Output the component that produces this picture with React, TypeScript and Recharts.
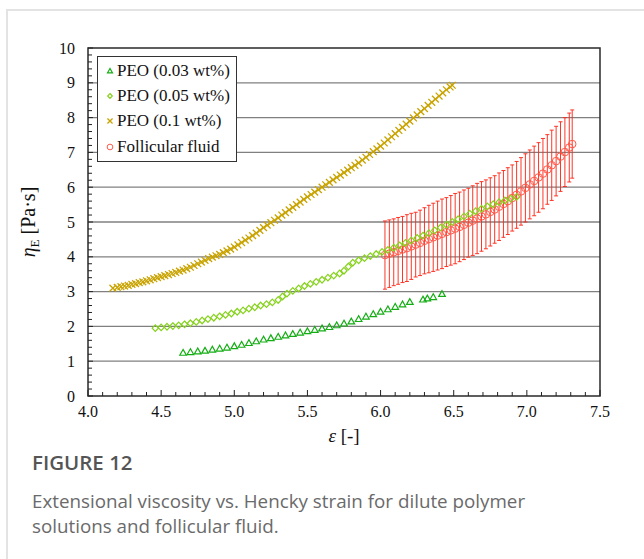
import { ScatterChart, Scatter, XAxis, YAxis, CartesianGrid, ReferenceArea, ErrorBar, Legend } from 'recharts'

const SERIF = '"Liberation Serif", "Times New Roman", serif'

// PEO 0.03 wt% (triangles)
const peo003: [number, number][] = [
  [4.65, 1.24], [4.7, 1.26], [4.75, 1.28], [4.8, 1.3], [4.85, 1.33], [4.9, 1.36], [4.95, 1.39],
  [5.0, 1.43], [5.05, 1.47], [5.1, 1.52], [5.15, 1.57], [5.2, 1.62], [5.25, 1.66], [5.3, 1.7],
  [5.35, 1.74], [5.4, 1.78], [5.45, 1.82], [5.5, 1.86], [5.55, 1.9], [5.6, 1.94], [5.65, 1.98],
  [5.7, 2.03], [5.75, 2.08], [5.8, 2.14], [5.85, 2.21], [5.9, 2.28], [5.95, 2.35], [6.0, 2.42],
  [6.05, 2.49], [6.1, 2.56], [6.15, 2.63], [6.2, 2.7], [6.29, 2.77], [6.32, 2.8], [6.36, 2.84],
  [6.42, 2.93],
]

// PEO 0.05 wt% (diamonds)
const peo005: [number, number][] = [
  [4.46, 1.95], [4.5, 1.97], [4.54, 1.99], [4.58, 2.01], [4.62, 2.03], [4.66, 2.06], [4.7, 2.09],
  [4.74, 2.13], [4.78, 2.17], [4.82, 2.21], [4.86, 2.25], [4.9, 2.29], [4.94, 2.33], [4.98, 2.37],
  [5.02, 2.42], [5.06, 2.46], [5.1, 2.51], [5.14, 2.55], [5.18, 2.6], [5.22, 2.64], [5.26, 2.69],
  [5.3, 2.76], [5.33, 2.86], [5.36, 2.94], [5.4, 3.02], [5.44, 3.09], [5.48, 3.16], [5.52, 3.22],
  [5.56, 3.28], [5.6, 3.34], [5.64, 3.4], [5.68, 3.46], [5.72, 3.52], [5.75, 3.6], [5.78, 3.72],
  [5.81, 3.83], [5.85, 3.9], [5.89, 3.96], [5.93, 4.02], [5.97, 4.08], [6.01, 4.14], [6.05, 4.2],
  [6.09, 4.26], [6.13, 4.33], [6.17, 4.4], [6.21, 4.47], [6.25, 4.54], [6.29, 4.61], [6.33, 4.68],
  [6.37, 4.76], [6.41, 4.84], [6.45, 4.92], [6.49, 5.0], [6.53, 5.08], [6.57, 5.16], [6.61, 5.24],
  [6.65, 5.31], [6.69, 5.38], [6.73, 5.45], [6.77, 5.51], [6.81, 5.57], [6.85, 5.62], [6.89, 5.67],
  [6.93, 5.72],
]

// PEO 0.1 wt% (crosses)
const peo01: [number, number][] = [
  [4.17, 3.1], [4.2, 3.12], [4.225, 3.14], [4.25, 3.16], [4.275, 3.18], [4.3, 3.21], [4.325, 3.23],
  [4.35, 3.26], [4.375, 3.28], [4.4, 3.31], [4.425, 3.34], [4.45, 3.37], [4.475, 3.4], [4.5, 3.43],
  [4.525, 3.46], [4.55, 3.49], [4.575, 3.52], [4.6, 3.55], [4.625, 3.59], [4.65, 3.62], [4.675, 3.66],
  [4.7, 3.7], [4.725, 3.75], [4.75, 3.8], [4.775, 3.85], [4.8, 3.9], [4.825, 3.95], [4.85, 3.99],
  [4.875, 4.03], [4.9, 4.07], [4.925, 4.12], [4.95, 4.17], [4.975, 4.22], [5.0, 4.28], [5.025, 4.34],
  [5.05, 4.41], [5.075, 4.48], [5.1, 4.54], [5.125, 4.61], [5.15, 4.68], [5.175, 4.76], [5.2, 4.84],
  [5.225, 4.91], [5.25, 4.98], [5.275, 5.05], [5.3, 5.12], [5.325, 5.2], [5.35, 5.27], [5.375, 5.35],
  [5.4, 5.42], [5.425, 5.5], [5.45, 5.57], [5.475, 5.65], [5.5, 5.72], [5.525, 5.79], [5.55, 5.86],
  [5.575, 5.93], [5.6, 6.0], [5.625, 6.07], [5.65, 6.14], [5.675, 6.21], [5.7, 6.28], [5.725, 6.35],
  [5.75, 6.42], [5.775, 6.49], [5.8, 6.56], [5.825, 6.63], [5.85, 6.7], [5.875, 6.78], [5.9, 6.86],
  [5.925, 6.94], [5.95, 7.02], [5.975, 7.1], [6.0, 7.18], [6.025, 7.27], [6.05, 7.36], [6.075, 7.45],
  [6.1, 7.54], [6.125, 7.63], [6.15, 7.72], [6.175, 7.81], [6.2, 7.9], [6.225, 7.99], [6.25, 8.08],
  [6.275, 8.17], [6.3, 8.26], [6.325, 8.35], [6.35, 8.44], [6.375, 8.53], [6.4, 8.62], [6.425, 8.71],
  [6.45, 8.8], [6.475, 8.88], [6.49, 8.93],
]

// Follicular fluid (circles) with standard deviation
const follicular: [number, number][] = [
  [6.03, 4.05], [6.06, 4.09], [6.09, 4.13], [6.12, 4.17], [6.15, 4.21], [6.18, 4.25], [6.21, 4.3],
  [6.24, 4.35], [6.27, 4.4], [6.3, 4.46], [6.33, 4.51], [6.36, 4.56], [6.39, 4.61], [6.42, 4.66],
  [6.45, 4.71], [6.48, 4.76], [6.51, 4.81], [6.54, 4.86], [6.57, 4.92], [6.6, 4.98], [6.63, 5.04],
  [6.66, 5.1], [6.69, 5.16], [6.72, 5.22], [6.75, 5.29], [6.78, 5.36], [6.81, 5.44], [6.84, 5.52],
  [6.87, 5.6], [6.9, 5.69], [6.93, 5.78], [6.96, 5.88], [6.99, 5.98], [7.02, 6.08], [7.05, 6.18],
  [7.08, 6.28], [7.11, 6.39], [7.14, 6.51], [7.17, 6.63], [7.2, 6.75], [7.23, 6.88], [7.26, 7.01],
  [7.29, 7.14], [7.31, 7.24],
]
const follicularErr = [
  0.98, 0.97, 0.96, 0.96, 0.95, 0.96, 0.95, 0.93, 0.94, 0.95, 0.97, 0.98, 0.99, 1.0, 0.99, 1.0,
  1.01, 1.0, 1.0, 0.99, 1.0, 1.01, 1.0, 0.99, 0.98, 0.97, 0.97, 0.96, 0.96, 0.95, 0.96, 0.97,
  0.98, 0.99, 1.0, 1.0, 1.01, 1.0, 1.01, 1.0, 1.0, 0.99, 0.99, 0.98,
]

const xTicks = [
  4.0, 4.1, 4.2, 4.3, 4.4, 4.5, 4.6, 4.7, 4.8, 4.9, 5.0, 5.1, 5.2, 5.3, 5.4, 5.5, 5.6, 5.7,
  5.8, 5.9, 6.0, 6.1, 6.2, 6.3, 6.4, 6.5, 6.6, 6.7, 6.8, 6.9, 7.0, 7.1, 7.2, 7.3, 7.4, 7.5,
]
const yTicks = [
  0, 0.2, 0.4, 0.6, 0.8, 1, 1.2, 1.4, 1.6, 1.8, 2, 2.2, 2.4, 2.6, 2.8, 3, 3.2, 3.4, 3.6, 3.8,
  4, 4.2, 4.4, 4.6, 4.8, 5, 5.2, 5.4, 5.6, 5.8, 6, 6.2, 6.4, 6.6, 6.8, 7, 7.2, 7.4, 7.6, 7.8,
  8, 8.2, 8.4, 8.6, 8.8, 9, 9.2, 9.4, 9.6, 9.8, 10,
]
const yGrid = [1, 2, 3, 4, 5, 6, 7, 8, 9]

const seriesNames = ['PEO (0.03 wt%)', 'PEO (0.05 wt%)', 'PEO (0.1 wt%)', 'Follicular fluid']

const toPoints = (arr: [number, number][]) => arr.map(([x, y]) => ({ x, y }))
const follicularData = follicular.map(([x, y], i) => ({ x, y, err: follicularErr[i] }))

const C_TRI = '#14ad14'
const C_DIA = '#86d21c'
const C_X = '#c9a300'
const C_CIR = '#ff5a4a'
const C_ERR = '#ff2a1a'

function Marker({ kind, cx, cy, s = 1 }: { kind: number; cx: number; cy: number; s?: number }) {
  if (cx == null || cy == null) return null
  if (kind === 0)
    return (
      <polygon
        points={`${cx},${cy - 3.4 * s} ${cx - 3.3 * s},${cy + 2.4 * s} ${cx + 3.3 * s},${cy + 2.4 * s}`}
        fill="none" stroke={C_TRI} strokeWidth={1.2}
      />
    )
  if (kind === 1)
    return (
      <polygon
        points={`${cx},${cy - 3.3 * s} ${cx + 3.1 * s},${cy} ${cx},${cy + 3.3 * s} ${cx - 3.1 * s},${cy}`}
        fill="none" stroke={C_DIA} strokeWidth={1.2}
      />
    )
  if (kind === 2)
    return (
      <path
        d={`M${cx - 3.4 * s},${cy - 3.4 * s}L${cx + 3.4 * s},${cy + 3.4 * s}M${cx + 3.4 * s},${cy - 3.4 * s}L${cx - 3.4 * s},${cy + 3.4 * s}`}
        stroke={C_X} strokeWidth={1.3}
      />
    )
  return <circle cx={cx} cy={cy} r={3.8 * s} fill="none" stroke={C_CIR} strokeWidth={1} />
}

const XTick = (props: any) => {
  const { x, y, payload } = props
  const v = payload.value as number
  const major = Math.abs(v * 2 - Math.round(v * 2)) < 1e-6
  return (
    <g>
      <line x1={x} x2={x} y1={y} y2={y - (major ? 6 : 4)} stroke="#222" strokeWidth={1} />
      {major && (
        <text x={x} y={y + 21} textAnchor="middle" style={{ fontFamily: SERIF, fontSize: 16 }} fill="#111">
          {v.toFixed(1)}
        </text>
      )}
    </g>
  )
}

const YTick = (props: any) => {
  const { x, y, payload } = props
  const v = payload.value as number
  const major = Math.abs(v - Math.round(v)) < 1e-6
  return (
    <g>
      <line x1={x} x2={x + (major ? 5 : 4)} y1={y} y2={y} stroke="#222" strokeWidth={1} />
      {major && (
        <text x={x - 13} y={y + 5.5} textAnchor="end" style={{ fontFamily: SERIF, fontSize: 16 }} fill="#111">
          {v}
        </text>
      )}
    </g>
  )
}

const YLabel = (props: any) => {
  const vb = props.viewBox || { x: 0, y: 48, width: 88, height: 348 }
  const cx = vb.x + 35
  const cy = vb.y + vb.height / 2
  return (
    <text x={cx} y={cy} transform={`rotate(-90, ${cx}, ${cy})`} textAnchor="middle" style={{ fontFamily: SERIF, fontSize: 20 }} fill="#111">
      <tspan fontStyle="italic">η</tspan>
      <tspan fontSize={13} dy={4}>E</tspan>
      <tspan dy={-4}> [Pa·s]</tspan>
    </text>
  )
}

const XLabel = (props: any) => {
  const vb = props.viewBox || { x: 88, y: 396, width: 512, height: 54 }
  return (
    <text x={vb.x + vb.width / 2} y={vb.y + 46} textAnchor="middle" style={{ fontFamily: SERIF, fontSize: 19 }} fill="#111">
      <tspan fontStyle="italic">ε</tspan>
      <tspan> [-]</tspan>
    </text>
  )
}

const LegendBox = () => (
  <div
    style={{
      border: '1.3px solid #333',
      background: '#fff',
      padding: '1px 6px 1px 7px',
      width: 140,
      boxSizing: 'border-box',
      fontFamily: SERIF,
      fontSize: 17,
      color: '#111',
    }}
  >
    {seriesNames.map((name, i) => (
      <div key={name} style={{ display: 'flex', alignItems: 'center', height: 25.4, whiteSpace: 'nowrap' }}>
        <svg width={10} height={10} style={{ marginRight: 2, flex: 'none' }}>
          <Marker kind={i} cx={5} cy={5} s={0.75} />
        </svg>
        {name}
      </div>
    ))}
  </div>
)

export default function App() {
  return (
    <div style={{ position: 'absolute', left: 0, top: 0, width: 644, height: 559, overflow: 'hidden', background: '#fff' }}>
      <div
        style={{
          position: 'absolute',
          left: 6,
          top: 9,
          right: -10,
          bottom: -10,
          borderTop: '2px solid #e3e3e3',
          borderLeft: '2px solid #e3e3e3',
        }}
      />
      <div style={{ position: 'absolute', left: 0, top: 0 }}>
        <ScatterChart width={644} height={450} margin={{ top: 48, right: 44, left: 0, bottom: 0 }}>
          <CartesianGrid vertical={false} horizontalValues={yGrid} stroke="#808080" strokeWidth={1.3} />
          <XAxis
            type="number"
            dataKey="x"
            domain={[4, 7.5]}
            ticks={xTicks}
            interval={0}
            allowDataOverflow
            axisLine={false}
            tickLine={false}
            tickSize={0}
            tickMargin={0}
            height={54}
            tick={<XTick />}
            label={<XLabel />}
          />
          <YAxis
            type="number"
            dataKey="y"
            domain={[0, 10]}
            ticks={yTicks}
            interval={0}
            allowDataOverflow
            axisLine={false}
            tickLine={false}
            tickSize={0}
            tickMargin={0}
            width={88}
            tick={<YTick />}
            label={<YLabel />}
          />
          <ReferenceArea x1={4} x2={7.5} y1={0} y2={10} fill="none" fillOpacity={0} stroke="#2a2a2a" strokeWidth={1.5} />
          <Scatter
            name={seriesNames[3]}
            data={follicularData}
            isAnimationActive={false}
            shape={(p: any) => <Marker kind={3} cx={p.cx} cy={p.cy} />}
          >
            <ErrorBar dataKey="err" direction="y" width={2} stroke={C_ERR} strokeOpacity={0.95} strokeWidth={1} isAnimationActive={false} />
          </Scatter>
          <Scatter
            name={seriesNames[2]}
            data={toPoints(peo01)}
            isAnimationActive={false}
            shape={(p: any) => <Marker kind={2} cx={p.cx} cy={p.cy} />}
          />
          <Scatter
            name={seriesNames[1]}
            data={toPoints(peo005)}
            isAnimationActive={false}
            shape={(p: any) => <Marker kind={1} cx={p.cx} cy={p.cy} />}
          />
          <Scatter
            name={seriesNames[0]}
            data={toPoints(peo003)}
            isAnimationActive={false}
            shape={(p: any) => <Marker kind={0} cx={p.cx} cy={p.cy} />}
          />
          <Legend
            layout="vertical"
            align="center"
            verticalAlign="middle"
            wrapperStyle={{ left: 97, top: 56, width: 140 }}
            content={<LegendBox />}
          />
        </ScatterChart>
      </div>
      <div style={{ position: 'absolute', left: 32, top: 449, fontFamily: '"Open Sans", sans-serif' }}>
        <div style={{ fontSize: 20.5, fontWeight: 600, lineHeight: '26px', color: '#555' }}>FIGURE 12</div>
        <div style={{ fontSize: 18.8, lineHeight: '25px', color: '#6a6a6a', marginTop: 14, whiteSpace: 'nowrap' }}>
          Extensional viscosity vs. Hencky strain for dilute polymer
          <br />
          solutions and follicular fluid.
        </div>
      </div>
    </div>
  )
}
